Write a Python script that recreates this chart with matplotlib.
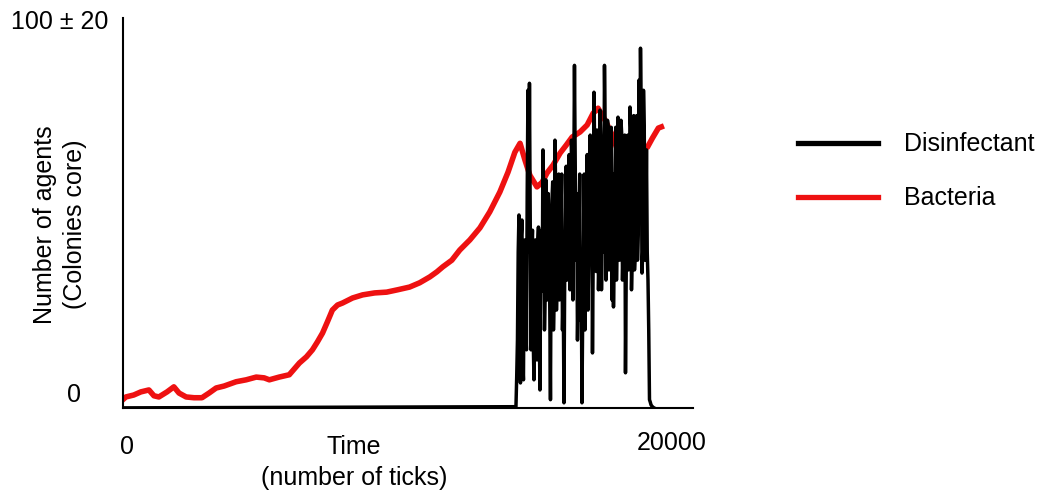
from matplotlib import pyplot as plt
import numpy as np

plt.rcParams['font.family'] = ['Liberation Sans', 'DejaVu Sans']

# bacteria curve (ticks, agents)
bact_x = [0, 110, 400, 660, 955, 1140, 1320, 1620, 1870, 2060, 2320, 2610, 2900,
          3160, 3420, 3710, 4150, 4520, 4890, 5180, 5370, 5730, 6100, 6470, 6730,
          6950, 7130, 7320, 7500, 7680, 7870, 8050, 8420, 8790, 9230, 9670, 10070,
          10510, 10880, 11250, 11510, 11730, 12060, 12350, 12720, 13090, 13450,
          13820, 14120, 14370, 14560, 14740, 14920, 15180, 15370, 15550, 15770,
          16030, 16250, 16470, 16760, 17020, 17240, 17420, 17680, 17940, 18160,
          18310, 18530, 18780, 19010, 19230, 19410, 19630, 19740]
bact_y = [2.1, 2.8, 3.3, 4.1, 4.6, 3.1, 2.8, 4.1, 5.4, 3.8, 2.8, 2.6, 2.6,
          3.8, 5.1, 5.6, 6.7, 7.2, 7.9, 7.7, 7.2, 7.9, 8.5, 11.5, 13.1,
          14.9, 16.9, 19.2, 22.1, 25.1, 26.4, 26.9, 28.2, 29.0, 29.5, 29.7, 30.3,
          31.0, 32.1, 33.6, 34.9, 36.2, 37.9, 40.5, 43.1, 46.2, 50.3,
          55.4, 60.5, 65.6, 67.9, 63.6, 59.7, 56.7, 57.9, 60.3, 62.3,
          65.4, 67.4, 69.5, 70.8, 72.6, 75.6, 76.9, 73.8, 70.0, 65.6,
          61.8, 63.6, 64.9, 66.2, 66.9, 69.2, 71.8, 72.1]

# disinfectant: zero until ~14400 ticks, then sampled every 27.5 ticks
dis_start = 14410
dis_step = 27.5
# even samples (spikes)
dis_peaks = [0.3, 17.4, 49.5, 6.4, 48.2, 7.2, 43.1, 14.9, 81.5, 83.3,
             14.9, 45.6, 7.2, 43.1, 12.3, 46.4, 4.6, 45.6, 66.2, 20.0,
             58.5, 27.7, 43.1, 2.1, 53.3, 20.0, 68.7, 25.1, 53.3, 27.7,
             50.8, 20.0, 1.3, 45.6, 32.8, 58.5, 30.3, 68.7, 27.7, 87.9,
             37.9, 17.4, 45.6, 22.6, 1.3, 37.9, 20.0, 53.3, 25.1, 63.6,
             43.1, 14.1, 81.0, 40.5, 71.3, 30.3, 76.4, 30.3, 66.2, 87.9,
             32.8, 73.8, 35.4, 68.7, 27.7, 25.9, 58.5, 32.8, 74.6, 37.9,
             73.8, 32.8, 66.2, 9.0, 53.3, 35.4, 77.2, 30.3, 71.3, 35.4,
             73.8, 37.9, 84.1, 92.3, 34.6, 81.5, 37.9, 66.2, 32.8, 2.1,
             0.8, 0.3, 0.0]
# odd samples (dense core band)
dis_core = [8, 40, 15, 44, 12, 40, 20, 55, 40, 50,
            40, 18, 38, 20, 42, 22, 40, 30, 55, 30,
            50, 55, 28, 45, 58, 30, 55, 35, 60, 35,
            60, 30, 35, 62, 40, 65, 40, 60, 55, 62,
            55, 30, 60, 35, 25, 60, 32, 65, 38, 70,
            60, 40, 65, 35, 68, 40, 70, 45, 40, 70,
            42, 72, 42, 72, 60, 40, 72, 45, 70, 45,
            70, 42, 70, 35, 70, 40, 72, 40, 75, 40,
            75, 45, 50, 75, 40, 72, 45, 40, 20, 1.5,
            0.5, 0.1]

dis_y = np.empty(len(dis_peaks) + len(dis_core))
dis_y[0::2] = dis_peaks
dis_y[1::2] = dis_core
dis_x = np.concatenate([[0], dis_start + dis_step * np.arange(len(dis_y))])
dis_y = np.concatenate([[0], dis_y])

fig = plt.figure(figsize=(10.5, 4.92), dpi=100)
axes = fig.add_axes([0.117, 0.171, 0.543, 0.792])

axes.plot(bact_x, bact_y, color='#ee1111', lw=4, zorder=2, label='Bacteria')
axes.plot(dis_x, dis_y, color='black', lw=2.5, zorder=3, label='Disinfectant')

axes.set_xlim(0, 20900)
axes.set_ylim(0, 100)
axes.set_xticks([])
axes.set_yticks([])
for s in ['top', 'right']:
    axes.spines[s].set_visible(False)
for s in ['left', 'bottom']:
    axes.spines[s].set_linewidth(1.5)

fs = 18
tr = axes.transAxes
axes.text(-0.026, 0.99, '100 ± 20', fontsize=fs, ha='right', va='center', transform=tr)
axes.text(-0.085, 0.033, '0', fontsize=fs, ha='center', va='center', transform=tr)
axes.text(0.007, -0.1, '0', fontsize=fs, ha='center', va='center', transform=tr)
axes.text(0.962, -0.09, '20000', fontsize=fs, ha='center', va='center', transform=tr)
axes.text(0.405, -0.14, 'Time\n(number of ticks)', fontsize=fs, ha='center',
          va='center', linespacing=1.35, transform=tr)
axes.text(-0.11, 0.47, 'Number of agents\n(Colonies core)', fontsize=fs, ha='center',
          va='center', rotation=90, linespacing=1.35, transform=tr)

h, l = axes.get_legend_handles_labels()
leg = axes.legend(h[::-1], l[::-1], loc='center left', bbox_to_anchor=(1.145, 0.607),
                  frameon=False, fontsize=fs, handlelength=3.2, handletextpad=1.05,
                  labelspacing=1.2)
for line in leg.get_lines():
    line.set_linewidth(3.8)

plt.savefig('out.png')
